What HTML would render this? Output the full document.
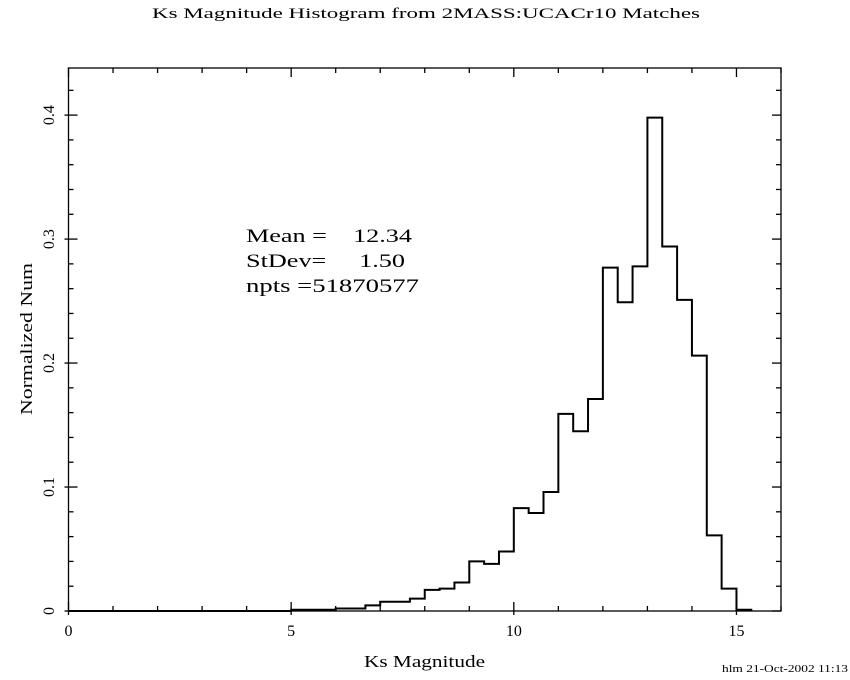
<!DOCTYPE html>
<html><head><meta charset="utf-8"><style>
html,body{margin:0;padding:0;background:#fff}
svg{display:block}
text{font-family:"Liberation Serif",serif;fill:#000}
</style></head><body>
<svg id="c" width="850" height="680" xmlns="http://www.w3.org/2000/svg">
<text x="152" y="18" font-size="15" textLength="548" lengthAdjust="spacingAndGlyphs">Ks Magnitude Histogram from 2MASS:UCACr10 Matches</text>
<text x="364" y="667" font-size="17" textLength="121" lengthAdjust="spacingAndGlyphs">Ks Magnitude</text>
<text x="32" y="415" font-size="17" textLength="152" lengthAdjust="spacingAndGlyphs" transform="rotate(-90 32 415)">Normalized Num</text>
<text x="722" y="672" font-size="10" textLength="126" lengthAdjust="spacingAndGlyphs" font-family="Liberation Sans, sans-serif">hlm 21-Oct-2002 11:13</text>
<g font-size="19">
<text x="246" y="242" textLength="166" lengthAdjust="spacingAndGlyphs" xml:space="preserve">Mean =    12.34</text>
<text x="246" y="267" textLength="159" lengthAdjust="spacingAndGlyphs" xml:space="preserve">StDev=     1.50</text>
<text x="246" y="292" textLength="173" lengthAdjust="spacingAndGlyphs">npts =51870577</text>
</g>
<g id="ax"></g>
<path id="hist" fill="none" stroke="#000" stroke-width="2"></path>
</svg>
<script>
const binStart = 0;
const binWidth = 1/3;
const binValues = [0,0,0,0,0,0,0,0,0,0,0,0,0,0,0,
 0.001,0.001,0.001,0.002,0.002,0.0045,0.0075,0.0075,0.010,0.017,0.018,0.023,
 0.040,0.038,0.048,0.083,0.079,0.096,0.159,0.145,0.171,0.277,0.249,0.278,
 0.398,0.294,0.251,0.206,0.061,0.018,0.001];
const xTicks = [0,5,10,15];
const yTicks = [0,0.1,0.2,0.3,0.4];
const xMin=0,xMax=16,yMin=0,yMax=0.438;
const L=68.5,R=781,T=68,B=611;
const X=v=>L+(v-xMin)/(xMax-xMin)*(R-L);
const Y=v=>B-(v-yMin)/(yMax-yMin)*(B-T);
const NS='http://www.w3.org/2000/svg';
const ax=document.getElementById('ax');
function ln(x1,y1,x2,y2,name){const e=document.createElementNS(NS,'line');
e.setAttribute('x1',x1);e.setAttribute('y1',y1);e.setAttribute('x2',x2);e.setAttribute('y2',y2);
e.setAttribute('stroke','#000');e.setAttribute('stroke-width','1.3');


ax.appendChild(e);return e;}
const fr=document.createElementNS(NS,'rect');
fr.setAttribute('x',L);fr.setAttribute('y',T);fr.setAttribute('width',R-L);fr.setAttribute('height',B-T);
fr.setAttribute('fill','none');fr.setAttribute('stroke','#000');fr.setAttribute('stroke-width','1.3');


ax.appendChild(fr);
for(let v=xMin;v<=xMax+1e-9;v+=1){const x=X(v);const maj=v%5===0;const len=maj?9:5;
 ln(x,B+(maj?4:0),x,B-len,'x-tick');ln(x,T,x,T+len,'x-tick-top');}
for(let i=0;i*0.02<=yMax;i++){const v=i*0.02;const y=Y(v);const maj=i%5===0;const len=maj?9:5;
 ln(L-(maj?4:0),y,L+len,y,'y-tick');ln(R,y,R-len,y,'y-tick-right');}
xTicks.forEach(v=>{const t=document.createElementNS(NS,'text');
t.setAttribute('x',X(v));t.setAttribute('y',B+25);t.setAttribute('text-anchor','middle');t.setAttribute('font-size','16');


t.textContent=String(v);ax.appendChild(t);});
yTicks.forEach(v=>{const t=document.createElementNS(NS,'text');const y=Y(v);
t.setAttribute('x',54);t.setAttribute('y',y);t.setAttribute('text-anchor','middle');t.setAttribute('font-size','16');
t.setAttribute('transform','rotate(-90 54 '+y+')');


t.textContent=v===0?'0':String(v);ax.appendChild(t);});
let d='M'+X(binStart)+' '+Y(0);
binValues.forEach((v,i)=>{const x0=X(binStart+i*binWidth),x1=X(binStart+(i+1)*binWidth);
 d+=' L'+x0+' '+Y(v)+' L'+x1+' '+Y(v);});
d+=' L'+X(binStart+binValues.length*binWidth)+' '+Y(0);
document.getElementById('hist').setAttribute('d',d);
</script>
</body></html>
